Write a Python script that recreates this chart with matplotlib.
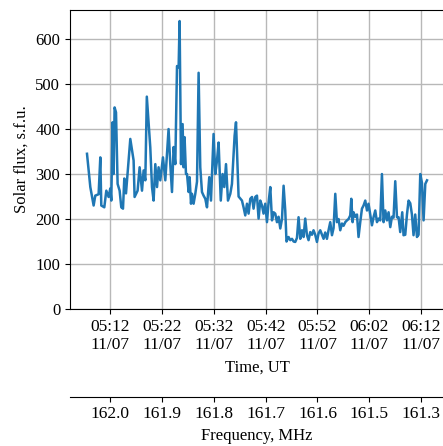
import matplotlib
matplotlib.use("Agg")
import matplotlib.pyplot as plt
import matplotlib.dates as mdates
import numpy as np
import pandas as pd

plt.rcParams['font.family'] = ['Liberation Serif', 'DejaVu Serif']
plt.rcParams['font.size'] = 12

# minutes after 05:00 UT, 11/07
minutes = [7.50, 8.14, 8.78, 9.10, 9.74, 10.07, 10.26, 10.84, 11.23, 11.67,
           12.00, 12.19, 12.44, 12.64, 12.83, 13.10, 13.41, 13.80, 14.12, 14.45,
           14.70, 15.03, 15.42, 15.86, 16.50, 16.69, 17.27, 17.66, 18.12, 18.43,
           18.76, 19.05, 19.24, 19.72, 20.05, 20.36, 20.69, 21.02, 21.32, 21.65,
           22.17, 22.62, 23.25, 23.58, 23.91, 24.22, 24.55, 24.88, 25.19, 25.38,
           25.65, 25.96, 26.15, 26.34, 26.61, 26.81, 27.12, 27.31, 27.58, 27.77,
           28.08, 28.41, 28.74, 29.05, 29.37, 29.70, 30.01, 30.34, 30.67, 31.11,
           31.44, 31.94, 32.27, 32.60, 32.91, 33.33, 33.68, 34.01, 34.34, 34.72,
           35.17, 35.49, 36.00, 36.27, 36.77, 37.42, 37.73, 38.06, 38.39, 38.70,
           39.03, 39.36, 39.66, 39.99, 40.32, 40.63, 40.96, 41.29, 41.59, 41.92,
           42.25, 42.56, 42.89, 43.22, 43.53, 43.85, 44.18, 44.49, 44.82, 45.15,
           45.46, 45.78, 46.02, 46.42, 46.75, 47.08, 47.39, 47.71, 48.04, 48.35,
           48.68, 49.01, 49.32, 49.64, 49.97, 50.28, 50.61, 50.94, 51.24, 51.57,
           51.90, 52.21, 52.54, 52.87, 53.18, 53.50, 53.83, 54.14, 54.47, 54.80,
           55.11, 55.44, 55.76, 56.07, 56.40, 56.73, 57.04, 57.37, 57.70, 58.00,
           58.33, 58.53, 58.78, 58.97, 59.30, 59.63, 59.93, 60.26, 60.59, 60.90,
           61.23, 61.56, 61.86, 62.19, 62.52, 62.83, 63.16, 63.49, 63.80, 64.12,
           64.45, 64.76, 65.09, 65.42, 65.73, 66.06, 66.38, 66.69, 67.02, 67.35,
           67.66, 67.98, 68.37, 68.62, 68.95, 69.28, 69.59, 69.92, 70.24, 70.55,
           70.88, 71.21, 71.52, 71.85, 72.18, 72.49, 72.82, 73.15]

flux = [345, 271, 230, 252, 255, 337, 230, 226, 263, 249,
        268, 241, 415, 300, 448, 437, 278, 263, 226, 223,
        290, 257, 315, 378, 330, 249, 263, 315, 263, 308,
        286, 472, 440, 359, 271, 241, 322, 271, 315, 286,
        337, 286, 400, 322, 260, 360, 322, 540, 537, 640,
        322, 411, 315, 382, 300, 300, 260, 293, 234, 256,
        234, 256, 283, 525, 315, 260, 252, 245, 226, 293,
        241, 389, 300, 330, 370, 241, 300, 271, 322, 241,
        256, 278, 385, 415, 250, 241, 226, 208, 234, 212,
        245, 249, 223, 249, 252, 201, 241, 230, 212, 234,
        193, 237, 271, 197, 215, 212, 193, 205, 179, 200,
        274, 219, 150, 160, 153, 156, 150, 149, 158, 204,
        156, 175, 160, 201, 164, 153, 171, 165, 175, 165,
        149, 168, 175, 165, 156, 170, 156, 175, 193, 164,
        180, 256, 193, 200, 175, 190, 185, 193, 197, 200,
        208, 245, 193, 215, 205, 210, 160, 193, 223, 230,
        241, 219, 234, 210, 186, 204, 219, 193, 201, 197,
        300, 193, 219, 197, 215, 182, 205, 203, 284, 204,
        204, 171, 215, 164, 165, 210, 241, 235, 210, 164,
        210, 160, 165, 300, 280, 197, 278, 286]

freq_labels = ['162.0', '161.9', '161.8', '161.7', '161.6', '161.5', '161.3']

t0 = pd.Timestamp('2021-07-11 05:00:00')
times = t0 + pd.to_timedelta(minutes, unit='m')

fig = plt.figure(figsize=(4.43, 4.46), dpi=100)
ax = fig.add_axes([70 / 443, 137 / 446, 374 / 443, 299 / 446])
ax.plot(times, flux, color='tab:blue', lw=1.8)
ax.set_ylim(bottom=0)
ax.set_yticks(np.arange(0, 700, 100))
ax.grid(True, color='#b8b8b8', lw=1.0)
ax.spines['right'].set_visible(False)

ax.xaxis.set_major_locator(mdates.MinuteLocator(byminute=[2, 12, 22, 32, 42, 52]))
ax.xaxis.set_major_formatter(mdates.DateFormatter('%H:%M\n%d/%m'))
ax.tick_params(axis='x', labelsize=12.5)
ax.set_xlabel('Time, UT', labelpad=5)
ax.set_ylabel('Solar flux, s.f.u.')

# second axis with frequency
ax2 = ax.twiny()
ax2.set_xlim(ax.get_xlim())
ax2.set_xticks(ax.get_xticks())
ax2.set_xticklabels(freq_labels)
ax2.tick_params(axis='x', labelsize=12.5)
ax2.xaxis.set_ticks_position('bottom')
ax2.xaxis.set_label_position('bottom')
ax2.spines['bottom'].set_position(('outward', 63))
for s in ['top', 'left', 'right']:
    ax2.spines[s].set_visible(False)
ax2.set_xlabel('Frequency, MHz', labelpad=4)

fig.savefig('out.png', dpi=100)
